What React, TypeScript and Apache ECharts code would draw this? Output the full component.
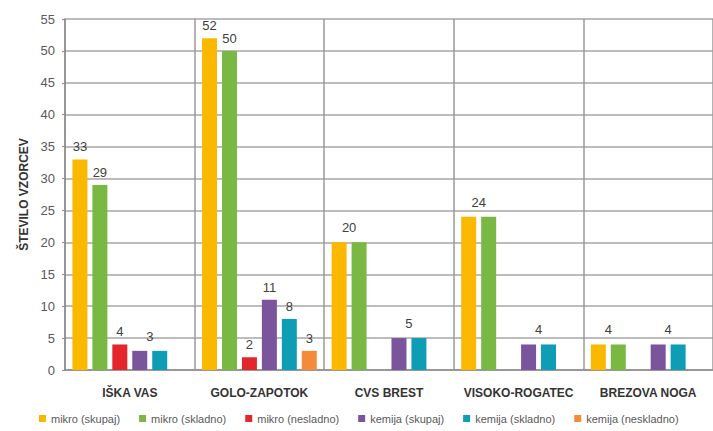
import React, { useEffect, useRef } from "react";
import * as echarts from "echarts";

const categories = ["IŠKA VAS", "GOLO-ZAPOTOK", "CVS BREST", "VISOKO-ROGATEC", "BREZOVA NOGA"];
const seriesNames = ["mikro (skupaj)", "mikro (skladno)", "mikro (nesladno)", "kemija (skupaj)", "kemija (skladno)", "kemija (neskladno)"];
const mikroSkupaj = [33, 52, 20, 24, 4];
const mikroSkladno = [29, 50, 20, 24, 4];
const mikroNeskladno = [4, 2, 0, 0, 0];
const kemijaSkupaj = [3, 11, 5, 4, 4];
const kemijaSkladno = [3, 8, 5, 4, 4];
const kemijaNeskladno = [0, 3, 0, 0, 0];
const yTicks = { min: 0, max: 55, interval: 5 };

const colors = ["#FBB800", "#78B843", "#E3262B", "#7A549D", "#0F9CB5", "#F28B3A"];
const allValues = [mikroSkupaj, mikroSkladno, mikroNeskladno, kemijaSkupaj, kemijaSkladno, kemijaNeskladno];

const font = "Liberation Sans Narrow, Liberation Sans, sans-serif";
const labelStyle = { color: "#404040", fontSize: 13, fontFamily: font };

function buildData(si: number) {
  const vals = allValues[si];
  return vals.map((v, ci) => {
    let show = v > 0;
    let offset: number[] = [0, 0];
    if (si === 0 || si === 3) {
      if (allValues[si + 1][ci] === v) offset = [10, -2];
    }
    if (si === 1 || si === 4) {
      if (allValues[si - 1][ci] === v) show = false;
    }
    return { value: v, label: { show, offset, ...labelStyle, position: "top", distance: 6 } };
  });
}

export default function App() {
  const ref = useRef<HTMLDivElement>(null);
  useEffect(() => {
    const chart = echarts.init(ref.current!, null, { renderer: "svg" });
    chart.setOption({
      animation: false,
      backgroundColor: "#ffffff",
      grid: { left: 65, right: 0, top: 19, bottom: 61, containLabel: false },
      legend: {
        bottom: 2,
        left: 34,
        itemWidth: 7,
        itemHeight: 7,
        itemGap: 19,
        icon: "rect",
        textStyle: { fontSize: 11, color: "#595959", fontFamily: font },
        data: seriesNames,
      },
      xAxis: {
        type: "category",
        data: categories,
        axisLine: { lineStyle: { color: "#8c8c8c", width: 1.5 } },
        axisTick: { show: false },
        splitLine: { show: true, interval: 0, lineStyle: { color: "#9a9a9a", width: 1.5 } },
        axisLabel: { interval: 0, color: "#333333", fontWeight: "bold", fontSize: 12, margin: 17, fontFamily: font },
      },
      yAxis: {
        type: "value",
        min: yTicks.min,
        max: yTicks.max,
        interval: yTicks.interval,
        name: "ŠTEVILO VZORCEV",
        nameLocation: "middle",
        nameGap: 33,
        nameRotate: 90,
        nameTextStyle: { color: "#333333", fontWeight: "bold", fontSize: 12, fontFamily: font },
        axisLine: { show: true, lineStyle: { color: "#8c8c8c", width: 1.5 } },
        axisTick: { show: true, length: 3, lineStyle: { color: "#8c8c8c" } },
        splitLine: { show: true, lineStyle: { color: "#a6a6a6", width: 1.5 } },
        axisLabel: { color: "#595959", fontSize: 13, margin: 10, fontFamily: font },
      },
      series: seriesNames.map((name, si) => ({
        name,
        type: "bar",
        barWidth: 15,
        barGap: "33%",
        barCategoryGap: "8%",
        itemStyle: { color: colors[si] },
        data: buildData(si),
      })),
    });
    return () => chart.dispose();
  }, []);
  return <div ref={ref} style={{ width: 713, height: 431, position: "absolute", left: 0, top: 0 }} />;
}
